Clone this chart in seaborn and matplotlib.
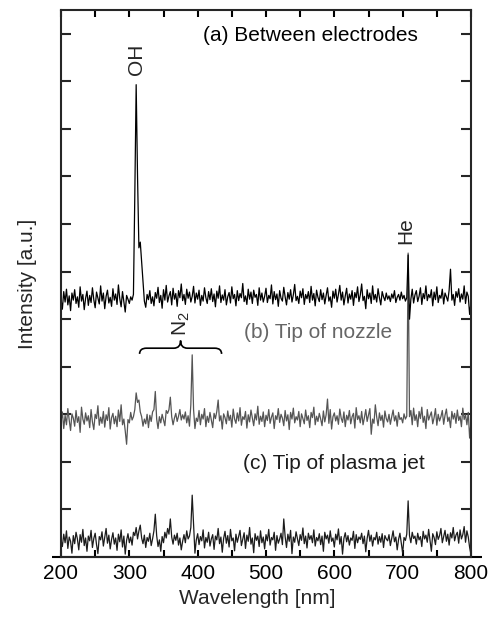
import numpy as np
import pandas as pd
import matplotlib
matplotlib.use("Agg")
import matplotlib.pyplot as plt
import seaborn as sns
from matplotlib.path import Path
from matplotlib.patches import PathPatch

# ---------------- data ----------------
wavelength = np.arange(200, 801, 2)

int_a = [
    5.42, 5.21, 5.58, 5.36, 5.63, 5.30, 5.49, 5.18, 5.55, 5.40,
    5.62, 5.33, 5.47, 5.25, 5.68, 5.38, 5.52, 5.20, 5.44, 5.59,
    5.29, 5.50, 5.35, 5.66, 5.41, 5.24, 5.57, 5.45, 5.32, 5.70,
    5.38, 5.55, 5.22, 5.48, 5.61, 5.34, 5.46, 5.27, 5.64, 5.40,
    5.53, 5.31, 5.72, 5.43, 5.26, 5.58, 5.37, 5.15, 5.50, 5.42,
    5.33, 5.47, 5.40, 5.52, 7.60, 9.93, 8.00, 6.50, 6.62, 6.20,
    5.80, 5.38, 5.25, 5.52, 5.41, 5.60, 5.33, 5.47, 5.28, 5.56,
    5.44, 5.67, 5.35, 5.50, 5.23, 5.62, 5.40, 5.71, 5.36, 5.49,
    5.58, 5.30, 5.65, 5.42, 5.54, 5.27, 5.60, 5.45, 5.74, 5.39,
    5.52, 5.31, 5.63, 5.44, 5.57, 5.36, 5.48, 5.69, 5.34, 5.55,
    5.42, 5.61, 5.29, 5.50, 5.38, 5.66, 5.45, 5.33, 5.58, 5.41,
    5.64, 5.37, 5.53, 5.26, 5.59, 5.44, 5.70, 5.35, 5.51, 5.40,
    5.62, 5.30, 5.47, 5.56, 5.34, 5.68, 5.43, 5.52, 5.28, 5.60,
    5.39, 5.54, 5.45, 5.75, 5.37, 5.49, 5.31, 5.63, 5.42, 5.57,
    5.33, 5.61, 5.46, 5.52, 5.29, 5.66, 5.40, 5.55, 5.36, 5.48,
    5.65, 5.35, 5.50, 5.43, 5.72, 5.32, 5.58, 5.41, 5.53, 5.27,
    5.60, 5.44, 5.38, 5.67, 5.47, 5.30, 5.56, 5.42, 5.62, 5.36,
    5.51, 5.73, 5.39, 5.48, 5.33, 5.59, 5.45, 5.64, 5.31, 5.52,
    5.43, 5.58, 5.35, 5.69, 5.40, 5.54, 5.28, 5.61, 5.46, 5.37,
    5.62, 5.41, 5.55, 5.32, 5.50, 5.66, 5.38, 5.47, 5.25, 5.59,
    5.44, 5.63, 5.36, 5.52, 5.71, 5.40, 5.57, 5.30, 5.49, 5.65,
    5.34, 5.53, 5.42, 5.60, 5.29, 5.56, 5.45, 5.68, 5.37, 5.51,
    5.74, 5.39, 5.48, 5.22, 5.62, 5.43, 5.55, 5.33, 5.70, 5.41,
    5.52, 5.36, 5.64, 5.45, 5.30, 5.58, 5.47, 5.39, 5.55, 5.42,
    5.49, 5.37, 5.53, 5.44, 5.60, 5.35, 5.46, 5.52, 5.40, 5.57,
    5.43, 5.50, 5.38, 5.45, 6.35, 5.00, 5.42, 5.63, 5.34, 5.51,
    5.60, 5.37, 5.48, 5.66, 5.31, 5.54, 5.43, 5.70, 5.39, 5.52,
    5.45, 5.62, 5.28, 5.57, 5.41, 5.68, 5.35, 5.50, 5.44, 5.63,
    5.32, 5.55, 5.47, 5.38, 5.61, 6.05, 5.40, 5.52, 5.29, 5.58,
    5.46, 5.64, 5.36, 5.53, 5.42, 5.70, 5.33, 5.57, 5.48, 5.10,
    5.35,
]

int_b = [
    2.85, 3.05, 2.70, 2.98, 2.78, 3.12, 2.88, 2.66, 3.01, 2.92,
    2.75, 3.08, 2.83, 2.95, 2.62, 3.15, 2.90, 2.79, 3.03, 2.86,
    2.97, 2.72, 3.10, 2.84, 2.68, 3.00, 2.91, 3.18, 2.77, 2.94,
    2.81, 3.06, 2.73, 2.99, 2.87, 3.14, 2.69, 2.93, 3.02, 2.80,
    2.96, 2.74, 3.09, 2.85, 3.20, 2.78, 2.90, 2.65, 2.37, 2.89,
    2.82, 3.04, 2.88, 2.95, 3.10, 3.45, 3.25, 3.30, 3.05, 2.95,
    2.75, 2.90, 2.80, 3.00, 2.72, 2.98, 2.85, 3.05, 3.10, 3.48,
    2.90, 2.70, 2.95, 2.82, 3.00, 2.88, 2.76, 3.08, 3.02, 3.10,
    3.36, 2.95, 2.78, 2.92, 3.02, 2.85, 2.96, 3.10, 2.88, 2.99,
    2.90, 3.05, 2.82, 2.97, 2.75, 3.20, 4.25, 3.10, 2.70, 2.92,
    2.85, 3.08, 2.78, 3.00, 2.90, 3.12, 2.74, 2.96, 2.83, 3.04,
    2.88, 2.72, 3.02, 2.91, 3.06, 3.30, 2.86, 2.97, 2.69, 3.01,
    2.93, 2.80, 3.07, 2.87, 2.98, 2.73, 3.11, 2.90, 2.81, 3.03,
    2.86, 3.14, 2.77, 2.95, 2.89, 3.06, 2.71, 2.99, 2.84, 3.09,
    2.92, 2.76, 3.01, 2.88, 3.17, 2.79, 2.96, 2.85, 3.05, 2.74,
    2.98, 2.87, 3.10, 2.81, 2.94, 3.03, 2.70, 2.97, 2.89, 3.12,
    2.83, 3.00, 2.92, 2.76, 3.08, 2.86, 2.99, 2.68, 3.04, 2.90,
    3.13, 2.82, 2.95, 2.88, 3.06, 2.74, 3.01, 2.91, 2.80, 3.09,
    2.87, 2.97, 2.72, 3.04, 2.93, 3.15, 2.78, 2.96, 2.85, 3.02,
    2.90, 2.76, 3.07, 2.84, 2.99, 3.32, 2.81, 3.10, 2.69, 2.95,
    3.03, 2.86, 2.97, 2.79, 3.11, 2.92, 2.83, 3.05, 2.74, 2.98,
    2.88, 3.08, 2.80, 2.95, 3.02, 2.71, 3.14, 2.89, 2.97, 2.82,
    3.06, 2.78, 2.93, 3.10, 2.85, 2.99, 3.12, 2.58, 2.90, 2.81,
    3.20, 2.94, 2.76, 3.03, 2.87, 2.98, 2.73, 3.07, 2.91, 2.84,
    3.00, 2.79, 2.95, 3.09, 2.86, 2.97, 2.75, 3.04, 2.89, 2.93,
    2.82, 3.01, 2.90, 2.96, 6.39, 2.95, 3.08, 2.78, 3.13, 2.87,
    2.99, 2.74, 3.06, 2.91, 3.15, 2.83, 2.96, 2.70, 3.10, 2.88,
    2.97, 3.05, 2.80, 2.93, 3.12, 2.77, 3.00, 2.86, 2.95, 3.08,
    2.79, 2.98, 3.11, 2.85, 2.94, 2.72, 3.06, 2.90, 3.02, 2.81,
    3.09, 2.87, 2.96, 2.74, 3.13, 2.89, 2.99, 2.78, 3.04, 2.50,
    2.85,
]

int_c = [
    0.35, 0.22, 0.48, 0.30, 0.55, 0.18, 0.42, 0.33, 0.08, 0.45,
    0.28, 0.52, 0.38, 0.15, 0.47, 0.31, 0.58, 0.24, 0.40, 0.12,
    0.44, 0.34, 0.56, 0.20, 0.39, 0.50, 0.26, 0.07, 0.43, 0.36,
    0.53, 0.23, 0.41, 0.60, 0.29, 0.46, 0.17, 0.37, 0.51, 0.27,
    0.40, 0.14, 0.48, 0.32, 0.57, 0.21, 0.44, 0.06, 0.35, 0.49,
    0.30, 0.42, 0.25, 0.52, 0.45, 0.62, 0.38, 0.55, 0.67, 0.40,
    0.28, 0.46, 0.20, 0.41, 0.33, 0.50, 0.24, 0.38, 0.55, 0.90,
    0.45, 0.22, 0.36, 0.12, 0.43, 0.30, 0.52, 0.40, 0.60, 0.48,
    0.80, 0.42, 0.27, 0.46, 0.35, 0.50, 0.25, 0.40, 0.15, 0.33,
    0.47, 0.30, 0.55, 0.38, 0.44, 0.62, 1.30, 0.70, 0.08, 0.36,
    0.49, 0.26, 0.43, 0.34, 0.57, 0.19, 0.41, 0.31, 0.52, 0.23,
    0.38, 0.47, 0.16, 0.44, 0.36, 0.60, 0.28, 0.42, 0.10, 0.39,
    0.54, 0.29, 0.45, 0.21, 0.58, 0.34, 0.40, 0.13, 0.48, 0.31,
    0.43, 0.56, 0.24, 0.37, 0.51, 0.18, 0.46, 0.33, 0.62, 0.27,
    0.40, 0.09, 0.49, 0.35, 0.44, 0.22, 0.55, 0.30, 0.42, 0.17,
    0.47, 0.34, 0.58, 0.25, 0.41, 0.36, 0.52, 0.14, 0.45, 0.29,
    0.38, 0.50, 0.26, 0.80, 0.43, 0.20, 0.48, 0.33, 0.56, 0.07,
    0.42, 0.31, 0.53, 0.39, 0.24, 0.47, 0.35, 0.61, 0.28, 0.44,
    0.19, 0.50, 0.37, 0.45, 0.30, 0.57, 0.23, 0.41, 0.34, 0.49,
    0.26, 0.44, 0.12, 0.52, 0.38, 0.46, 0.29, 0.55, 0.33, 0.40,
    0.21, 0.48, 0.36, 0.59, 0.27, 0.43, 0.06, 0.39, 0.51, 0.32,
    0.45, 0.25, 0.40, 0.35, 0.54, 0.18, 0.47, 0.30, 0.42, 0.37,
    0.50, 0.28, 0.44, 0.11, 0.39, 0.56, 0.33, 0.46, 0.23, 0.41,
    0.36, 0.52, 0.27, 0.43, 0.31, 0.49, 0.20, 0.45, 0.38, 0.34,
    0.47, 0.24, 0.40, 0.55, 0.32, 0.42, 0.15, 0.37, 0.50, 0.29,
    0.08, 0.41, 0.35, 0.48, 1.18, 0.45, 0.30, 0.52, 0.39, 0.44,
    0.27, 0.50, 0.36, 0.43, 0.22, 0.54, 0.38, 0.46, 0.31, 0.58,
    0.35, 0.12, 0.49, 0.41, 0.26, 0.53, 0.37, 0.45, 0.60, 0.30,
    0.43, 0.56, 0.33, 0.48, 0.25, 0.51, 0.40, 0.62, 0.34, 0.46,
    0.52, 0.29, 0.57, 0.38, 0.47, 0.64, 0.31, 0.55, 0.42, 0.20,
    0.05,
]

x_major = [200, 300, 400, 500, 600, 700, 800]
x_minor = [250, 350, 450, 550, 650, 750]
y_ticks = [1, 2, 3, 4, 5, 6, 7, 8, 9, 10, 11]

labels_series = ["(a) Between electrodes", "(b) Tip of nozzle", "(c) Tip of plasma jet"]
peak_labels = ["OH", "He", "N$_2$"]

# ---------------- style ----------------
sns.set_style("ticks")
plt.rcParams["font.family"] = ["Liberation Sans", "DejaVu Sans"]
plt.rcParams["mathtext.fontset"] = "custom"
plt.rcParams["mathtext.rm"] = "Liberation Sans"
plt.rcParams["mathtext.it"] = "Liberation Sans"

fig = plt.figure(figsize=(4.99, 6.23), dpi=100)
ax = fig.add_axes([61 / 499, 1 - 557 / 623, 410 / 499, 547 / 623])

df = pd.DataFrame({"Wavelength": wavelength, "a": int_a, "b": int_b, "c": int_c})

sns.lineplot(data=df, x="Wavelength", y="c", color="#1c1c1c", lw=0.9,
             estimator=None, ax=ax)
sns.lineplot(data=df, x="Wavelength", y="b", color="#555555", lw=0.9,
             estimator=None, ax=ax)
sns.lineplot(data=df, x="Wavelength", y="a", color="#000000", lw=0.9,
             estimator=None, ax=ax)

ax.set_xlim(200, 800)
ax.set_ylim(0, 11.5)
ax.set_xticks(x_major)
ax.set_xticks(x_minor, minor=True)
ax.set_yticks(y_ticks)

for s in ax.spines.values():
    s.set_linewidth(1.5)
    s.set_visible(True)

ax.tick_params(axis="x", which="both", direction="in", top=True, bottom=True,
               length=5, width=1.5, labelsize=15, pad=5, colors="black")
ax.tick_params(axis="y", which="both", direction="in", left=True, right=True,
               length=7.5, width=1.5, labelleft=False)

# extended bottom axis line
ax.plot([-0.022, 1.027], [0, 0], transform=ax.transAxes, color="black",
        lw=1.5, clip_on=False, solid_capstyle="butt")

ax.set_xlabel("Wavelength [nm]", fontsize=15, labelpad=4)
ax.xaxis.label.set_x(0.478)
ax.set_ylabel("Intensity [a.u.]", fontsize=15, labelpad=17)

# ---------------- annotations ----------------
ax.text(408, 10.97, labels_series[0], fontsize=15, color="black", ha="left", va="center")
ax.text(468, 4.71, labels_series[1], fontsize=15, color="#666666", ha="left", va="center")
ax.text(466, 1.97, labels_series[2], fontsize=15, color="#1c1c1c", ha="left", va="center")

ax.text(310, 10.47, peak_labels[0], fontsize=15, rotation=90, ha="center", va="center")
ax.text(704, 6.87, peak_labels[1], fontsize=15, rotation=90, ha="center", va="center")
ax.text(376, 4.90, peak_labels[2], fontsize=15, rotation=90, ha="center", va="center")

# curly brace over the N2 band region
x0, x1, xm = 315, 435, 375
y_end, y_flat, y_tip = 4.27, 4.39, 4.55
verts = [(x0, y_end), (x0, y_flat), (x0 + 10, y_flat),
         (xm - 10, y_flat), (xm, y_flat), (xm, y_tip),
         (xm, y_flat), (xm + 10, y_flat),
         (x1 - 10, y_flat), (x1, y_flat), (x1, y_end)]
codes = [Path.MOVETO, Path.CURVE3, Path.CURVE3,
         Path.LINETO, Path.CURVE3, Path.CURVE3,
         Path.CURVE3, Path.CURVE3,
         Path.LINETO, Path.CURVE3, Path.CURVE3]
ax.add_patch(PathPatch(Path(verts, codes), fill=False, lw=1.2, edgecolor="black"))

fig.savefig("out.png", dpi=100)
